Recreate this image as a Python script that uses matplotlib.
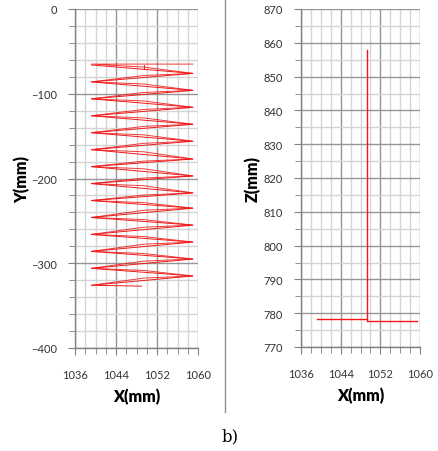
import matplotlib.pyplot as plt
from matplotlib.ticker import MultipleLocator, FixedLocator
from matplotlib.lines import Line2D

# scan path (left plot), X-Y plane
x_left = 1039.2
x_right = 1059.0
x_mid = 1049.4
y_left = [-66, -86, -106, -126, -146, -166, -186, -206, -226, -246, -266, -286, -306, -326]
y_right = [-76, -96, -116, -136, -156, -177, -197, -217, -235, -255, -275, -295, -315]
top_y = -65
end_x, end_y = 1049.0, -327

# X-Z plane (right plot)
zx_vert = [1049.4, 1049.4]
z_vert = [778.0, 857.8]
zx_h1 = [1039.2, 1049.4]
z_h1 = [778.2, 778.2]
zx_h2 = [1049.4, 1059.3]
z_h2 = [777.7, 777.7]

x_ticks = [1036, 1044, 1052, 1060]

RED = '#f01818'
plt.rcParams['font.family'] = ['Lato', 'DejaVu Sans']

fig = plt.figure(figsize=(4.38, 4.52), dpi=100)
W, H = 438, 452
ax1 = fig.add_axes([75 / W, 1 - 349 / H, 123 / W, 339 / H])
ax2 = fig.add_axes([301 / W, 1 - 348 / H, 119 / W, 338 / H])

# straight zigzag
zx, zy = [], []
for i in range(len(y_left)):
    zx.append(x_left); zy.append(y_left[i])
    if i < len(y_right):
        zx.append(x_right); zy.append(y_right[i])
zx.append(end_x); zy.append(end_y)
ax1.plot(zx, zy, color=RED, lw=0.7)

# second pass, bent near middle
bx, by = [x_right], [top_y]
bx.append(x_left); by.append(top_y)
for i in range(len(y_right)):
    bx += [x_mid, x_right]; by += [y_left[i] - 2.5, y_right[i]]
    bx += [x_mid, x_left]; by += [y_right[i] - 2.5, y_left[i + 1]]
ax1.plot(bx, by, color=RED, lw=0.7, alpha=0.85)
ax1.plot([x_mid, x_mid], [-66, -71], color=RED, lw=0.7)

ax2.plot(zx_vert, z_vert, color=RED, lw=1)
ax2.plot(zx_h1, z_h1, color=RED, lw=1)
ax2.plot(zx_h2, z_h2, color=RED, lw=1)

def style(ax, ylim, ymaj, ymin, ylab, ylab_x):
    ax.set_xlim(1036, 1060)
    ax.set_ylim(*ylim)
    ax.xaxis.set_major_locator(FixedLocator(x_ticks))
    ax.xaxis.set_minor_locator(MultipleLocator(2))
    ax.yaxis.set_major_locator(MultipleLocator(ymaj))
    ax.yaxis.set_minor_locator(MultipleLocator(ymin))
    ax.grid(which='minor', color='#d4d4d4', lw=1.0)
    ax.grid(which='major', color='#969696', lw=1.0)
    ax.set_axisbelow(True)
    for s in ['top', 'right']:
        ax.spines[s].set_visible(False)
    for s in ['left', 'bottom']:
        ax.spines[s].set_color('#808080')
        ax.spines[s].set_linewidth(1.0)
    ax.tick_params(which='both', direction='out', color='#808080', labelsize=8,
                   labelcolor='#333333')
    ax.tick_params(which='major', length=5)
    ax.tick_params(which='minor', length=4)
    ax.tick_params(axis='x', pad=10)
    ax.tick_params(axis='y', pad=8)
    ax.set_xlabel('X(mm)', fontsize=11.5, fontweight='heavy', va='center')
    ax.xaxis.set_label_coords(0.5, -0.142)
    ax.set_ylabel(ylab, fontsize=11.5, fontweight='heavy', va='center')
    ax.yaxis.set_label_coords(ylab_x, 0.5)

style(ax1, (-400, 0), 100, 20, 'Y(mm)', -0.43)
style(ax2, (770, 870), 10, 5, 'Z(mm)', -0.41)

fig.add_artist(Line2D([224.7 / W, 224.7 / W], [1, 1 - 413 / H], color='#909090', lw=1))
fig.text(230 / W, 1 - 437 / H, 'b)', family='DejaVu Serif', fontsize=12,
         ha='center', va='center')

fig.savefig('out.png', dpi=100)
